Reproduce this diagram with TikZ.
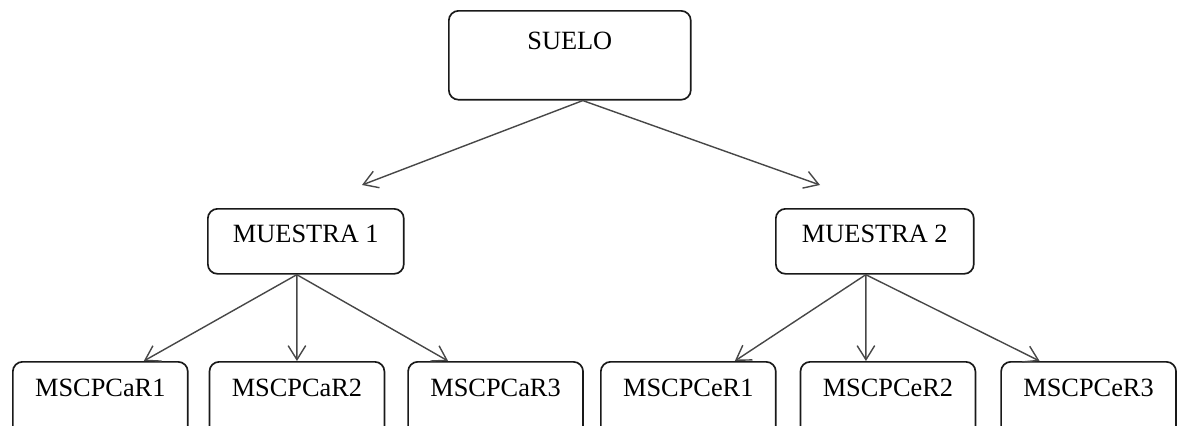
\documentclass[tikz,border=0pt]{standalone}
\usepackage{fontspec}
\setmainfont{Liberation Serif}
\usetikzlibrary{positioning,arrows.meta}

\begin{document}
\begin{tikzpicture}[x=0.02cm, y=-0.02cm, node distance=0.4cm,
  caja/.style={rectangle, draw=black!90, line width=0.95pt, rounded corners=5.5pt, inner sep=0pt, font=\rmfamily\fontsize{15}{18}\selectfont},
  hoja/.style={caja, minimum width=3.5cm, text height=19.7pt, text depth=25pt},
  flecha/.style={draw=black!72, line width=0.8pt, -{Straight Barb[length=8pt,width=10pt]}}]

\useasboundingbox (0,0) rectangle (1181,426);
\clip (0,0) rectangle (1181,426);

\node (suelo) [caja, anchor=north west, minimum width=4.84cm, text height=22pt, text depth=28.6pt] at (448,10) {SUELO};

\node (muestra1) [caja, anchor=north west, minimum width=3.92cm, text height=19.2pt, text depth=17.8pt] at (207,208) {MUESTRA 1};
\node (muestra2) [caja, anchor=north west, minimum width=3.96cm, text height=19.2pt, text depth=17.8pt] at (775,208) {MUESTRA 2};

\node (caR1) [hoja, anchor=north west] at (12,361) {MSCPCaR1};
\node (caR2) [hoja, right=0.4cm of caR1] {MSCPCaR2};
\node (caR3) [hoja, right=0.44cm of caR2] {MSCPCaR3};

\node (ceR1) [hoja, anchor=north west] at (600,361) {MSCPCeR1};
\node (ceR2) [hoja, right=0.46cm of ceR1] {MSCPCeR2};
\node (ceR3) [hoja, right=0.48cm of ceR2] {MSCPCeR3};

\coordinate (sorig) at ([xshift=0.26cm]suelo.south);
\coordinate (m1fin) at (362,185);
\coordinate (m2fin) at (820,185);
\coordinate (m1orig) at ([xshift=-0.18cm]muestra1.south);
\coordinate (m2orig) at ([xshift=-0.18cm]muestra2.south);

\draw [flecha] (sorig) -- (m1fin);
\draw [flecha] (sorig) -- (m2fin);

\draw [flecha] (m1orig) -- ([xshift=0.87cm]caR1.north);
\draw [flecha] (m1orig) -- (caR2.north);
\draw [flecha] (m1orig) -- ([xshift=-0.95cm]caR3.north);

\draw [flecha] (m2orig) -- ([xshift=0.93cm]ceR1.north);
\draw [flecha] (m2orig) -- ([xshift=-0.44cm]ceR2.north);
\draw [flecha] (m2orig) -- ([xshift=-0.98cm]ceR3.north);

\end{tikzpicture}
\end{document}
